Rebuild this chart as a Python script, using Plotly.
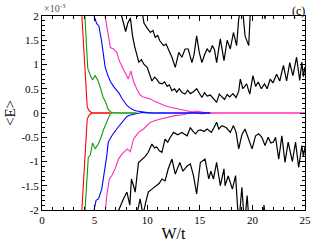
import plotly.graph_objects as go

# values of <E> in units of 1e-3
red_x = [3.6, 3.8, 4.0, 4.3, 4.5, 4.75, 5.0, 5.5, 6.0, 6.5]
red_up = [2.7, 1.95, 1.25, 0.12, 0.04, 0.0, 0.0, 0.0, 0.0, 0.0]
red_lo = [-2.7, -1.95, -1.25, -0.12, -0.04, 0.0, 0.0, 0.0, 0.0, 0.0]

green_up_x = [3.95, 4.1, 4.35, 4.6, 4.8, 5.05, 5.3, 5.55, 5.8, 6.05, 6.3, 6.6, 7.0, 7.5, 8.0, 8.5, 9.0]
green_up = [2.5, 1.95, 0.92, 0.78, 0.68, 0.77, 0.68, 0.52, 0.33, 0.22, 0.07, 0.01, 0, 0, 0, 0, 0]
green_lo_x = [3.95, 4.1, 4.25, 4.4, 4.6, 4.8, 5.05, 5.35, 5.65, 5.85, 6.15, 6.4, 6.6, 7.0, 7.5, 8.0, 8.5, 9.0]
green_lo = [-2.5, -2.0, -1.5, -0.92, -0.86, -0.62, -0.74, -0.64, -0.48, -0.34, -0.19, -0.06, 0, 0, 0, 0, 0, 0]

blue_up_x = [4.85, 4.95, 5.2, 5.4, 5.65, 5.85, 6.0, 6.25, 6.5, 6.8, 7.1, 7.35, 7.6, 7.85, 8.1, 8.4,
             8.7, 9.0, 9.5, 10.0, 10.5, 11.0, 12.0, 13.0, 14.0, 15.0, 16.0]
blue_up = [2.3, 2.0, 1.84, 1.8, 1.5, 1.2, 0.95, 0.78, 0.65, 0.55, 0.47, 0.4, 0.3, 0.22, 0.15, 0.1,
           0.06, 0.04, 0.02, 0.01, 0.0, 0.0, 0.0, 0.0, 0.0, 0.0, 0.0]
blue_lo_x = [4.85, 4.95, 5.14, 5.37, 5.68, 5.9, 6.16, 6.3, 6.64, 7.1, 7.6, 8.07, 8.4, 9.0, 9.5,
             10.0, 11.0, 12.0, 13.0, 14.0, 15.0, 16.0]
blue_lo = [-2.3, -2.0, -1.8, -1.77, -1.57, -1.29, -0.88, -0.6, -0.47, -0.33, -0.19, -0.07, -0.04,
           -0.02, 0.01, 0.0, 0.0, 0.0, 0.0, 0.0, 0.0, 0.0]

pink_up_x = [5.9, 6.0, 6.15, 6.3, 6.5, 6.8, 7.1, 7.4, 7.75, 8.0, 8.2, 8.45, 8.7, 9.0, 9.3, 9.6, 10.0,
             10.3, 10.7, 11.2, 11.7, 12.2, 12.8, 13.5, 14.0, 14.7, 15.2, 15.7, 16.5, 18.0, 20.0,
             22.0, 25.0]
pink_up = [2.3, 2.0, 1.8, 1.6, 1.35, 1.32, 1.25, 1.05, 0.91, 0.8, 0.7, 0.87, 0.65, 0.5, 0.38, 0.33,
           0.3, 0.29, 0.24, 0.19, 0.15, 0.12, 0.09, 0.06, 0.04, 0.0, -0.02, 0.0, 0.0, 0.0, 0.0,
           0.0, 0.0]
pink_lo_x = [5.9, 6.0, 6.16, 6.4, 6.64, 6.95, 7.27, 7.6, 7.85, 8.1, 8.4, 8.7, 9.0, 9.17, 9.65, 10.3,
             11.0, 11.55, 12.5, 13.5, 14.2, 14.7, 15.2, 15.7, 16.5, 18.0, 20.0, 22.0, 25.0]
pink_lo = [-2.3, -2.0, -1.7, -1.36, -1.29, -1.15, -0.95, -0.85, -0.8, -0.74, -0.8, -0.54, -0.45,
           -0.4, -0.33, -0.19, -0.14, -0.11, -0.06, -0.03, 0.02, 0.04, 0.02, 0.0, 0.0, 0.0, 0.0,
           0.0, 0.0]

kin_up_x = [7.2, 7.5, 7.75, 7.95, 8.15, 8.4, 8.6, 8.8, 9.0, 9.2, 9.45, 9.7, 10.0, 10.2, 10.45, 10.7,
            10.9, 11.15, 11.4, 11.65, 11.9, 12.1, 12.35, 12.6, 12.8, 13.05, 13.3, 13.6, 13.85, 14.1,
            14.4, 14.7, 14.95, 15.2, 15.45, 15.7, 16.0, 16.3, 16.6, 16.85, 17.1, 17.35, 17.6, 17.85,
            18.15, 18.45, 18.7, 18.85, 19.1, 19.45, 19.75, 20.05, 20.3, 20.55, 20.85, 21.15, 21.4,
            21.7, 21.95, 22.3, 22.6, 22.95, 23.25, 23.55, 23.85, 24.2, 24.5, 24.7, 24.85, 25.0]
kin_up = [2.3, 2.02, 1.85, 1.68, 1.85, 1.96, 1.6, 1.38, 1.2, 1.05, 1.1, 1.0, 0.94, 0.8, 0.66, 0.74,
          0.7, 0.62, 0.6, 0.64, 0.55, 0.58, 0.46, 0.5, 0.43, 0.5, 0.42, 0.39, 0.47, 0.4,
          0.44, 0.5, 0.4, 0.32, 0.42, 0.35, 0.37, 0.3, 0.22, 0.39, 0.33, 0.28, 0.38, 0.33,
          0.4, 0.32, 0.45, 0.7, 0.5, 0.6, 0.39, 0.77, 0.55, 0.64, 0.5, 0.6, 0.5,
          0.7, 0.62, 0.8, 0.66, 0.98, 0.66, 1.04, 0.77, 1.15, 0.67, 1.05, 0.75, 0.95]

kout_up_x = [8.9, 9.05, 9.2, 9.35, 9.5, 9.7, 10.0, 10.3, 10.55, 10.76, 11.0, 11.2, 11.55, 11.8, 12.0,
             12.35, 12.67, 13.0, 13.3, 13.6, 13.9, 14.25, 14.45, 14.7, 14.95, 15.2, 15.45, 15.7,
             15.95, 16.2, 16.4, 16.6, 16.95, 17.3, 17.6, 17.9, 18.2, 18.5, 18.7, 19.0, 19.3, 19.65,
             19.85, 20.2, 20.6, 21.0, 21.2, 21.4, 22.0, 23.0, 24.0, 25.0]
kout_up = [2.3, 1.98, 2.2, 2.0, 2.1, 1.85, 1.75, 1.66, 1.7, 1.56, 1.6, 1.49, 1.39, 1.42, 1.32,
           1.15, 0.94, 1.25, 1.15, 1.32, 1.32, 1.04, 1.2, 1.59, 1.25, 1.04, 1.2, 1.32,
           1.25, 1.39, 1.3, 1.04, 1.53, 1.08, 1.5, 1.32, 1.66, 1.39, 1.94, 2.3, 1.59, 1.39,
           2.3, 2.6, 2.4, 2.3, 1.94, 2.3, 2.6, 2.5, 2.7, 2.6]

kin_lo_x = [7.1, 7.3, 7.75, 8.07, 8.35, 8.5, 8.7, 8.86, 9.17, 9.5, 9.8, 10.1, 10.45, 10.7, 10.9, 11.15,
            11.4, 11.7, 11.95, 12.2, 12.5, 12.9, 13.3, 13.55, 13.8, 14.1, 14.35, 14.6, 14.85, 15.1,
            15.4, 15.7, 16.1, 16.35, 16.6, 16.8, 17.1, 17.5, 17.9, 18.2, 18.45, 18.7, 19.0, 19.3,
            19.65, 19.97, 20.3, 20.6, 20.9, 21.2, 21.5, 21.75, 22.0, 22.2, 22.5, 22.8, 23.1, 23.4,
            23.8, 24.1, 24.4, 24.7, 24.85, 25.0]
kin_lo = [-2.3, -2.0, -1.77, -1.63, -1.9, -1.36, -1.5, -1.63, -1.02, -0.95, -0.9, -0.81, -0.64, -0.72,
          -0.7, -0.78, -0.81, -0.54, -0.6, -0.5, -0.4, -0.45, -0.4, -0.44, -0.47, -0.3, -0.38,
          -0.43, -0.36, -0.35, -0.38, -0.33, -0.4, -0.3, -0.19, -0.33, -0.26, -0.3, -0.4,
          -0.26, -0.4, -0.74, -0.45, -0.33, -0.54, -0.74, -0.47, -0.43, -0.5, -0.67, -0.5,
          -0.62, -0.6, -0.5, -0.95, -0.47, -1.02, -0.6, -1.0, -0.6, -1.12, -0.67, -0.9, -0.7]

kout_lo_x = [8.9, 9.1, 9.33, 9.6, 9.8, 10.1, 10.45, 10.9, 11.15, 11.4, 11.7, 12.0, 12.35, 12.67, 13.1,
             13.4, 13.8, 14.1, 14.4, 14.7, 15.05, 15.5, 15.85, 16.05, 16.3, 16.6, 16.95, 17.3, 17.4,
             17.7, 18.1, 18.4, 18.7, 19.0, 19.25, 19.5, 19.7, 20.0, 20.3, 21.0, 21.1, 21.3, 22.0,
             25.0]
kout_lo = [-2.3, -2.0, -1.77, -2.1, -1.9, -1.63, -1.57, -1.5, -1.45, -1.36, -1.4, -1.15, -0.95,
           -1.26, -1.02, -1.2, -1.09, -1.05, -1.29, -1.67, -1.02, -0.95, -1.36, -1.2, -1.36,
           -1.02, -1.5, -1.15, -1.5, -1.3, -1.57, -1.29, -2.3, -1.53, -2.3, -1.7, -2.3, -2.1,
           -2.5, -2.3, -1.9, -2.3, -2.6, -2.6]

y_ticks = [-2, -1.5, -1, -0.5, 0, 0.5, 1, 1.5, 2]
y_labels = ["-2", "-1.5", "-1", "-0.5", "0", "0.5", "1", "1.5", "2"]
x_ticks = [0, 5, 10, 15, 20, 25]
x_labels = ["0", "5", "10", "15", "20", "25"]

BLACK = "#000000"
PINK = "#ff2ab4"
BLUE = "#0000ff"
GREEN = "#109a10"
RED = "#ff0000"

series = [
    (kin_up_x, kin_up, BLACK, 1.2), (kout_up_x, kout_up, BLACK, 1.2),
    (kin_lo_x, kin_lo, BLACK, 1.2), (kout_lo_x, kout_lo, BLACK, 1.2),
    (pink_up_x, pink_up, PINK, 1.1), (pink_lo_x, pink_lo, PINK, 1.1),
    (blue_up_x, blue_up, BLUE, 1.1), (blue_lo_x, blue_lo, BLUE, 1.1),
    (green_up_x, green_up, GREEN, 1.1), (green_lo_x, green_lo, GREEN, 1.1),
    (red_x, red_up, RED, 1.1), (red_x, red_lo, RED, 1.1),
]

fig = go.Figure()
for xs, ys, c, w in series:
    fig.add_trace(go.Scatter(x=xs, y=ys, mode="lines", line=dict(color=c, width=w),
                             showlegend=False, hoverinfo="skip"))

FONT = "Liberation Serif, Times New Roman, serif"
fig.update_layout(
    width=329, height=247,
    margin=dict(l=42, r=24, t=16, b=37, autoexpand=False),
    paper_bgcolor="white", plot_bgcolor="white",
    font=dict(family=FONT, color="black", size=11),
    showlegend=False,
    xaxis=dict(range=[0, 25], tickvals=x_ticks, ticktext=x_labels, ticks="inside", ticklen=5,
               tickcolor="black", showline=True, linecolor="black", linewidth=1, mirror="ticks",
               showgrid=False, zeroline=False, tickfont=dict(size=11, family=FONT),
               automargin=False,
               minor=dict(dtick=1, ticks="inside", ticklen=3, tickcolor="black", showgrid=False),
               title=dict(text="W/t", font=dict(size=16, family=FONT, color="black"), standoff=2)),
    yaxis=dict(range=[-2, 2], tickvals=y_ticks, ticktext=y_labels, ticks="inside", ticklen=5,
               tickcolor="black", showline=True, linecolor="black", linewidth=1, mirror="ticks",
               showgrid=False, zeroline=False, tickfont=dict(size=11, family=FONT),
               automargin=False,
               minor=dict(dtick=0.1, ticks="inside", ticklen=3, tickcolor="black", showgrid=False),
               title=dict(text="&lt;E&gt;", font=dict(size=15, family=FONT, color="black"),
                          standoff=2)),
    annotations=[
        dict(text="×10<sup>-3</sup>", xref="paper", yref="paper", x=0.0, y=1.0,
             xanchor="left", yanchor="bottom", showarrow=False,
             font=dict(size=10, family=FONT, color="#555555")),
        dict(text="(c)", xref="paper", yref="paper", x=0.975, y=1.0, xanchor="center",
             yanchor="bottom", yshift=-4, showarrow=False, font=dict(size=12, family=FONT)),
    ],
)

fig.write_html("out.html", config={"displayModeBar": False},
               post_script="document.body.style.margin='0px';")
